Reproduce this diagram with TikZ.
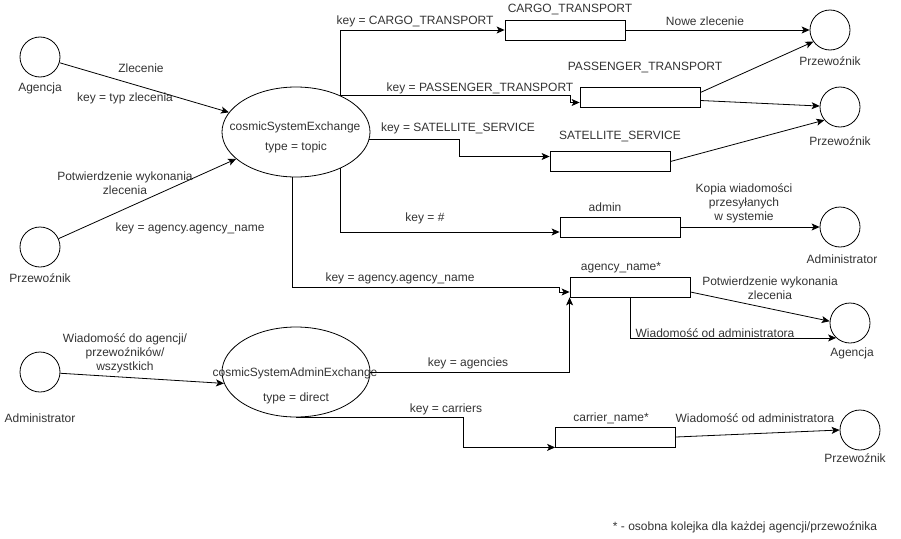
\documentclass[tikz,border=0pt]{standalone}
\usepackage{fontspec}
\setmainfont{Liberation Sans}
\usetikzlibrary{arrows.meta,shapes.geometric}
\begin{document}
\begin{tikzpicture}[x=1pt,y=-1pt,line width=0.8pt,
  every node/.style={font=\fontsize{12}{14}\selectfont,text=black!80},
  actor/.style={draw,circle,minimum size=40pt,inner sep=0pt},
  exch/.style={draw,ellipse,minimum width=148pt,minimum height=90pt,inner sep=0pt},
  queue/.style={draw,rectangle,minimum width=120pt,minimum height=20pt,inner sep=0pt},
  conn/.style={-{Stealth[length=8pt,width=7pt,inset=2pt]}}]
\useasboundingbox (0,0) rectangle (901,538);

\node[actor] (agl) at (40,57) {};
\node (aglt) at (40,88) {Agencja};
\node[actor] (prl) at (40,247) {};
\node (prlt) at (40,278) {Przewoźnik};
\node[actor] (adl) at (40,372) {};
\node (adlt) at (40,418) {Administrator};
\node[actor] (pr1) at (830,30) {};
\node (pr1t) at (830,61) {Przewoźnik};
\node[actor] (pr2) at (840,107) {};
\node (pr2t) at (840,141) {Przewoźnik};
\node[actor] (adr) at (840,227) {};
\node (adrt) at (842,259) {Administrator};
\node[actor] (agr) at (850,323) {};
\node (agrt) at (852,353) {Agencja};
\node[actor] (pr3) at (860,430) {};
\node (pr3t) at (855,458) {Przewoźnik};

\node[exch] (ex) at (296,132) {};
\node (ext) at (295,127) {cosmicSystemExchange};
\node (extype) at (296,147) {type = topic};
\node[exch] (aex) at (296,372) {};
\node (aext) at (295,373) {cosmicSystemAdminExchange};
\node (aextype) at (296,398) {type = direct};

\node[queue] (cargo) at (565,30) {};
\node (lcargo) at (570,10) {CARGO\_TRANSPORT};
\node[queue] (pass) at (640,97.5) {};
\node (lpass) at (645,68) {PASSENGER\_TRANSPORT};
\node[queue] (sat) at (610,161.5) {};
\node (lsat) at (620,137) {SATELLITE\_SERVICE};
\node[queue] (adm) at (620,227) {};
\node (ladm) at (605,207) {admin};
\node[queue] (agn) at (630,287) {};
\node (lagn) at (621,268) {agency\_name*};
\node[queue] (car) at (615.5,437) {};
\node (lcar) at (611,418) {carrier\_name*};

% left side
\draw[conn] (agl) -- (ex);
\node (lzl) at (141,68) {Zlecenie};
\node (ltyp) at (125,98) {key = typ zlecenia};
\draw[conn] (prl) -- (ex);
\node[align=center] (lpotw) at (125,183) {Potwierdzenie wykonania\\zlecenia};
\node (lagk) at (190,228) {key = agency.agency\_name};
\draw[conn] (adl) -- (aex.189);
\node[align=center] (lwiad) at (125,353) {Wiadomość do agencji/\\przewoźników/\\wszystkich};

% topic exchange
\draw[conn] (ex.39) |- (cargo.west);
\node (kcargo) at (415,21) {key = CARGO\_TRANSPORT};
\draw[conn] (ex.39) -- ++(230,0) |- ([yshift=-5pt]pass.west);
\node (kpass) at (480,88) {key = PASSENGER\_TRANSPORT};
\draw[conn] (ex.-6) -- ++(90,0) |- ([yshift=5pt]sat.west);
\node (ksat) at (458,128) {key = SATELLITE\_SERVICE};
\draw[conn] (ex.-39) |- ([yshift=-5pt]adm.west);
\node (kadm) at (425,218) {key = \#};
\draw[conn] (ex.265) |- ([xshift=-10pt]agn.west) |- ([yshift=-5pt]agn.west);
\node (kagn) at (400,278) {key = agency.agency\_name};

% admin exchange
\draw[conn] (aex.east) -| (agn.south west);
\node (kagc) at (468,363) {key = agencies};
\draw[conn] (aex.south) -- ++(167,0) |- (car.south west);
\node (kcar) at (446,409) {key = carriers};

% right side
\draw[conn] (cargo.east) -- (pr1);
\node (lnowe) at (705,21) {Nowe zlecenie};
\draw[conn] ([yshift=5pt]pass.east) -- (pr1.215);
\draw[conn] ([yshift=-3pt]pass.east) -- (pr2);
\draw[conn] (sat.east) -- (pr2.220);
\draw[conn] (adm.east) -- (adr);
\node[align=center] (lkopia) at (744,203) {Kopia wiadomości\\przesyłanych\\w systemie};
\draw[conn] ([yshift=-5pt]agn.east) -- (agr.175);
\node[align=center] (lpotw2) at (770,288) {Potwierdzenie wykonania\\zlecenia};
\draw[conn] (agn.south) |- (agr.227);
\node (lwod1) at (715,333) {Wiadomość od administratora};
\draw[conn] (car.east) -- (pr3.west);
\node (lwod2) at (755,418) {Wiadomość od administratora};

\node (note) at (745,527) {* - osobna kolejka dla każdej agencji/przewoźnika};
\end{tikzpicture}
\end{document}
